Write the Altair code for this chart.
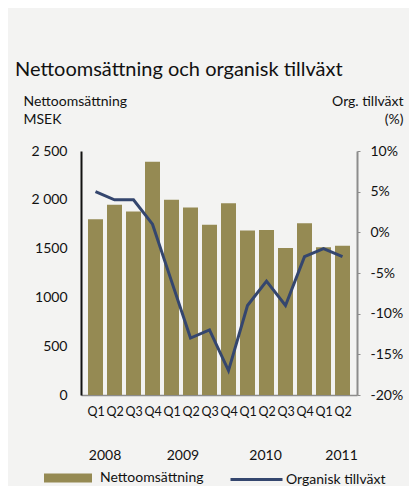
import altair as alt
import pandas as pd

quarters = ["Q1", "Q2", "Q3", "Q4", "Q1", "Q2", "Q3", "Q4", "Q1", "Q2", "Q3", "Q4", "Q1", "Q2"]
sales = [1800, 1950, 1880, 2390, 2000, 1920, 1745, 1965, 1685, 1690, 1505, 1760, 1515, 1530]
growth = [5, 4, 4, 1, -6, -13, -12, -17, -9, -6, -9, -3, -2, -3]
years = ["2008", "2009", "2010", "2011"]
year_pos = [0.5, 4.6, 8.95, 12.95]
left_ticks = [0, 500, 1000, 1500, 2000, 2500]
left_tick_labels = ["0", "500", "1000", "1500", "2 000", "2 500"]
right_ticks = [-20, -15, -10, -5, 0, 5, 10]

OLIVE = "#958a53"
NAVY = "#34466e"
FONT = "Lato"

df = pd.DataFrame({
    "i": list(range(len(quarters))),
    "q": quarters,
    "sales": sales,
    "growth": growth,
    "s1": ["Nettoomsättning"] * len(quarters),
    "s2": ["Organisk tillväxt"] * len(quarters),
})
ydf = pd.DataFrame({"year": years, "pos": year_pos})

qexpr = "[" + ",".join(f"'{q}'" for q in quarters) + "][datum.value]"
lexpr = " : ".join(f"datum.value == {v} ? '{l}'" for v, l in zip(left_ticks, left_tick_labels)) + " : ''"

xscale = alt.Scale(domain=[-0.5, 13.5], nice=False, zero=False)
xaxis = alt.Axis(values=list(range(len(quarters))), labelExpr=qexpr, title=None,
                 grid=False, ticks=False, domainColor="#8c8c8c", domainWidth=1.5,
                 labelPadding=10, labelFontSize=12.5, labelColor="#111", labelFont=FONT,
                 labelOverlap=False, labelFlush=False, labelBound=False)

bars = alt.Chart(df).mark_bar(size=15, color=OLIVE).encode(
    x=alt.X("i:Q", scale=xscale, axis=xaxis),
    y=alt.Y("sales:Q", scale=alt.Scale(domain=[0, 2500], nice=False),
            axis=alt.Axis(values=left_ticks, labelExpr=lexpr, grid=False, ticks=False,
                          domainColor="#111", domainWidth=2, labelPadding=14,
                          labelFontSize=14, labelColor="#111", labelFont=FONT,
                          title=["Nettoomsättning", "MSEK"], titleAngle=0, titleAlign="left",
                          titleBaseline="alphabetic", titleX=-58, titleY=-46,
                          titleFontSize=14, titleFontWeight="normal", titleFont=FONT,
                          titleColor="#111", titleLineHeight=18)),
    color=alt.Color("s1:N", scale=alt.Scale(domain=["Nettoomsättning"], range=[OLIVE]),
                    legend=alt.Legend(title=None, orient="none", legendX=-37, legendY=303,
                                      symbolType="M-1,-0.19H1V0.19H-1Z", symbolSize=2304,
                                      symbolStrokeWidth=0, labelFontSize=14, labelFont=FONT,
                                      labelColor="#111", labelOffset=8)),
)

line = alt.Chart(df).mark_line(strokeWidth=3, color=NAVY).encode(
    x=alt.X("i:Q", scale=xscale, axis=xaxis),
    y=alt.Y("growth:Q", scale=alt.Scale(domain=[-20, 10], nice=False),
            axis=alt.Axis(orient="right", values=right_ticks, labelExpr="datum.value + '%'",
                          grid=False, tickSize=3, tickColor="#8c8c8c", domainColor="#8c8c8c",
                          domainWidth=2, labelPadding=10, labelFontSize=14, labelColor="#111",
                          labelFont=FONT,
                          title=["Org. tillväxt", "(%)"], titleAngle=0, titleAlign="right",
                          titleBaseline="alphabetic", titleX=46, titleY=-46,
                          titleFontSize=14, titleFontWeight="normal", titleFont=FONT,
                          titleColor="#111", titleLineHeight=18)),
    stroke=alt.Stroke("s2:N", scale=alt.Scale(domain=["Organisk tillväxt"], range=[NAVY]),
                      legend=alt.Legend(title=None, orient="none", legendX=148, legendY=301,
                                        symbolType="stroke", symbolSize=2704,
                                        symbolStrokeWidth=3, labelFontSize=14, labelFont=FONT,
                                        labelColor="#111", labelOffset=2)),
)

year_text = alt.Chart(ydf).mark_text(fontSize=14, font=FONT, color="#111", baseline="middle").encode(
    x=alt.X("pos:Q", scale=xscale, axis=xaxis),
    y=alt.value(305),
    text="year:N",
)

chart = alt.layer(bars, line, year_text).resolve_scale(
    y="independent", color="independent", stroke="independent"
).properties(
    width=276, height=244,
    padding={"left": 73, "top": 143, "right": 52, "bottom": 91},
    autosize=alt.AutoSizeParams(type="none"),
    title=alt.TitleParams("Nettoomsättning och organisk tillväxt", anchor="start", frame="group",
                          dx=-66, fontSize=20, font=FONT, fontWeight="normal", color="#111",
                          offset=14),
).configure(background="#f3f3f2").configure_view(stroke=None).configure_axisX(labelOverlap=False)

chart.save("out.html", embed_options={"renderer": "svg", "actions": False})
